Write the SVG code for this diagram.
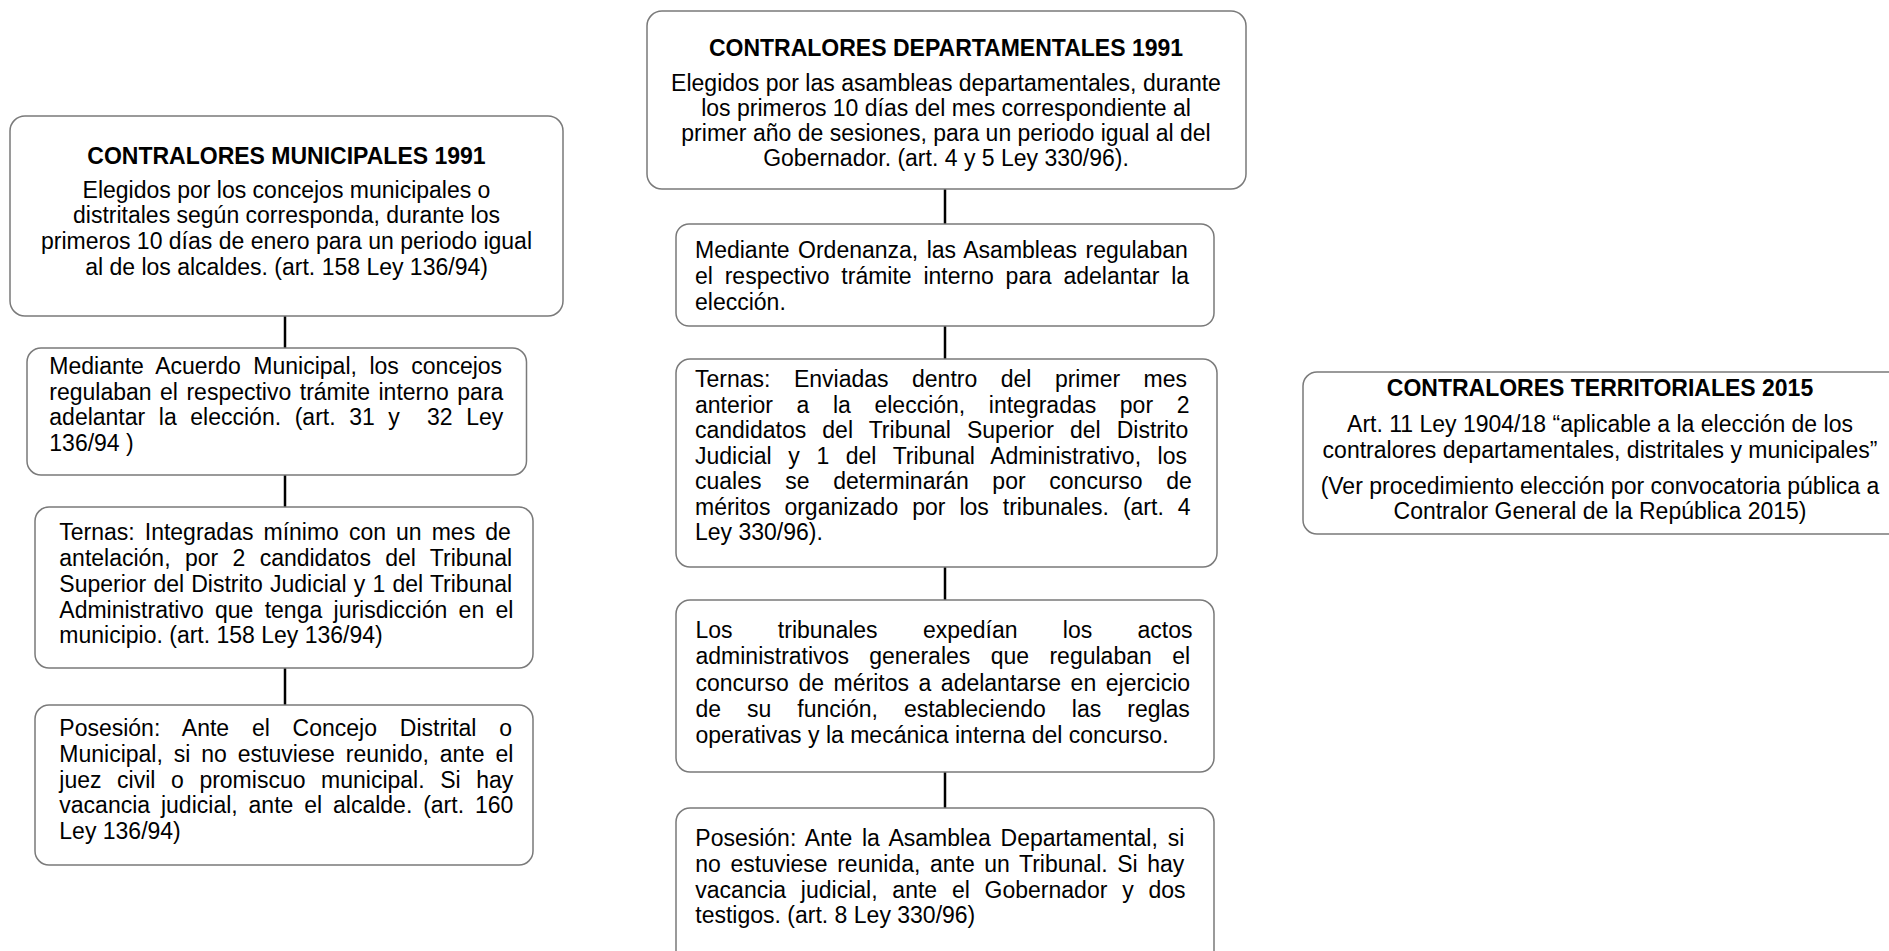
<svg xmlns="http://www.w3.org/2000/svg" width="1889" height="951" viewBox="0 0 1889 951">
<style>
.b{fill:#fff;stroke:#7a7a7a;stroke-width:1.5}
.t{font-family:"Liberation Sans",Arial,sans-serif;font-size:23px;fill:#000;white-space:pre}
.h{font-weight:bold}
.c{text-anchor:middle}
.conn line{stroke:#000;stroke-width:2.5}
</style>
<rect width="1889" height="951" fill="#fff"/>
<g id="connectors" class="conn">
<line x1="285" y1="316" x2="285" y2="348"/>
<line x1="285" y1="475" x2="285" y2="507"/>
<line x1="285" y1="668" x2="285" y2="705"/>
<line x1="945" y1="189" x2="945" y2="224"/>
<line x1="945" y1="326" x2="945" y2="359"/>
<line x1="945" y1="567" x2="945" y2="600"/>
<line x1="945" y1="772" x2="945" y2="808"/>
</g>
<g id="mun1">
<rect class="b" x="10" y="116" width="553" height="200" rx="15"/>
<text class="t h c" x="286.5" y="164">CONTRALORES MUNICIPALES 1991</text>
<text class="t c" x="286.5" y="197.5">Elegidos por los concejos municipales o</text>
<text class="t c" x="286.5" y="223.3">distritales según corresponda, durante los</text>
<text class="t c" x="286.5" y="249.1">primeros 10 días de enero para un periodo igual</text>
<text class="t c" x="286.5" y="274.9">al de los alcaldes. (art. 158 Ley 136/94)</text>
</g>
<g id="mun2">
<rect class="b" x="27" y="348" width="499.5" height="127" rx="14"/>
<text class="t" x="49.3" y="374" word-spacing="6.12">Mediante Acuerdo Municipal, los concejos</text>
<text class="t" x="49.3" y="399.5" word-spacing="2.08">regulaban el respectivo trámite interno para</text>
<text class="t" x="49.3" y="425" word-spacing="7.21" xml:space="preserve">adelantar la elección. (art. 31 y  32 Ley</text>
<text class="t" x="49.3" y="450.5">136/94 )</text>
</g>
<g id="mun3">
<rect class="b" x="35" y="507" width="498" height="161" rx="14"/>
<text class="t" x="59.3" y="540" word-spacing="3.65">Ternas: Integradas mínimo con un mes de</text>
<text class="t" x="59.3" y="566" word-spacing="7.96">antelación, por 2 candidatos del Tribunal</text>
<text class="t" x="59.3" y="591.7" word-spacing="0.77">Superior del Distrito Judicial y 1 del Tribunal</text>
<text class="t" x="59.3" y="617.5" word-spacing="4.9">Administrativo que tenga jurisdicción en el</text>
<text class="t" x="59.3" y="643.3">municipio. (art. 158 Ley 136/94)</text>
</g>
<g id="mun4">
<rect class="b" x="35" y="705" width="498" height="160" rx="14"/>
<text class="t" x="59.3" y="736" word-spacing="16.4">Posesión: Ante el Concejo Distrital o</text>
<text class="t" x="59.3" y="761.8" word-spacing="4.5">Municipal, si no estuviese reunido, ante el</text>
<text class="t" x="59.3" y="787.6" word-spacing="9.2">juez civil o promiscuo municipal. Si hay</text>
<text class="t" x="59.3" y="813.4" word-spacing="4.5">vacancia judicial, ante el alcalde. (art. 160</text>
<text class="t" x="59.3" y="839.2">Ley 136/94)</text>
</g>
<g id="dep1">
<rect class="b" x="647" y="11" width="599" height="178" rx="15"/>
<text class="t h c" x="946" y="56">CONTRALORES DEPARTAMENTALES 1991</text>
<text class="t c" x="946" y="90.5">Elegidos por las asambleas departamentales, durante</text>
<text class="t c" x="946" y="115.8">los primeros 10 días del mes correspondiente al</text>
<text class="t c" x="946" y="141.1">primer año de sesiones, para un periodo igual al del</text>
<text class="t c" x="946" y="166.4">Gobernador. (art. 4 y 5 Ley 330/96).</text>
</g>
<g id="dep2">
<rect class="b" x="676" y="224" width="538" height="102" rx="13"/>
<text class="t" x="695" y="258" word-spacing="2.05">Mediante Ordenanza, las Asambleas regulaban</text>
<text class="t" x="695" y="283.8" word-spacing="5.42">el respectivo trámite interno para adelantar la</text>
<text class="t" x="695" y="309.5">elección.</text>
</g>
<g id="dep3">
<rect class="b" x="676" y="359" width="541" height="208" rx="14"/>
<text class="t" x="695" y="387" word-spacing="17.1">Ternas: Enviadas dentro del primer mes</text>
<text class="t" x="695" y="412.5" word-spacing="17.2">anterior a la elección, integradas por 2</text>
<text class="t" x="695" y="438" word-spacing="9.68">candidatos del Tribunal Superior del Distrito</text>
<text class="t" x="695" y="463.5" word-spacing="10.2">Judicial y 1 del Tribunal Administrativo, los</text>
<text class="t" x="695" y="489" word-spacing="17.3">cuales se determinarán por concurso de</text>
<text class="t" x="695" y="514.5" word-spacing="7.6">méritos organizado por los tribunales. (art. 4</text>
<text class="t" x="695" y="540">Ley 330/96).</text>
</g>
<g id="dep4">
<rect class="b" x="676" y="600" width="538" height="172" rx="14"/>
<text class="t" x="695.5" y="638" word-spacing="38.9">Los tribunales expedían los actos</text>
<text class="t" x="695.5" y="664.3" word-spacing="14">administrativos generales que regulaban el</text>
<text class="t" x="695.5" y="690.6" word-spacing="3.17">concurso de méritos a adelantarse en ejercicio</text>
<text class="t" x="695.5" y="716.9" word-spacing="19.6">de su función, estableciendo las reglas</text>
<text class="t" x="695.5" y="743.2">operativas y la mecánica interna del concurso.</text>
</g>
<g id="dep5">
<rect class="b" x="676" y="808" width="538" height="160" rx="14"/>
<text class="t" x="695.3" y="846" word-spacing="3.44">Posesión: Ante la Asamblea Departamental, si</text>
<text class="t" x="695.3" y="871.8" word-spacing="3.19">no estuviese reunida, ante un Tribunal. Si hay</text>
<text class="t" x="695.3" y="897.5" word-spacing="8.4">vacancia judicial, ante el Gobernador y dos</text>
<text class="t" x="695.3" y="923.3">testigos. (art. 8 Ley 330/96)</text>
</g>
<g id="terr">
<rect class="b" x="1303" y="372" width="600" height="162" rx="14"/>
<text class="t h c" x="1600" y="396">CONTRALORES TERRITORIALES 2015</text>
<text class="t c" x="1600" y="432">Art. 11 Ley 1904/18 “aplicable a la elección de los</text>
<text class="t c" x="1600" y="457.5">contralores departamentales, distritales y municipales”</text>
<text class="t c" x="1600" y="494">(Ver procedimiento elección por convocatoria pública a</text>
<text class="t c" x="1600" y="518.5">Contralor General de la República 2015)</text>
</g>
</svg>
